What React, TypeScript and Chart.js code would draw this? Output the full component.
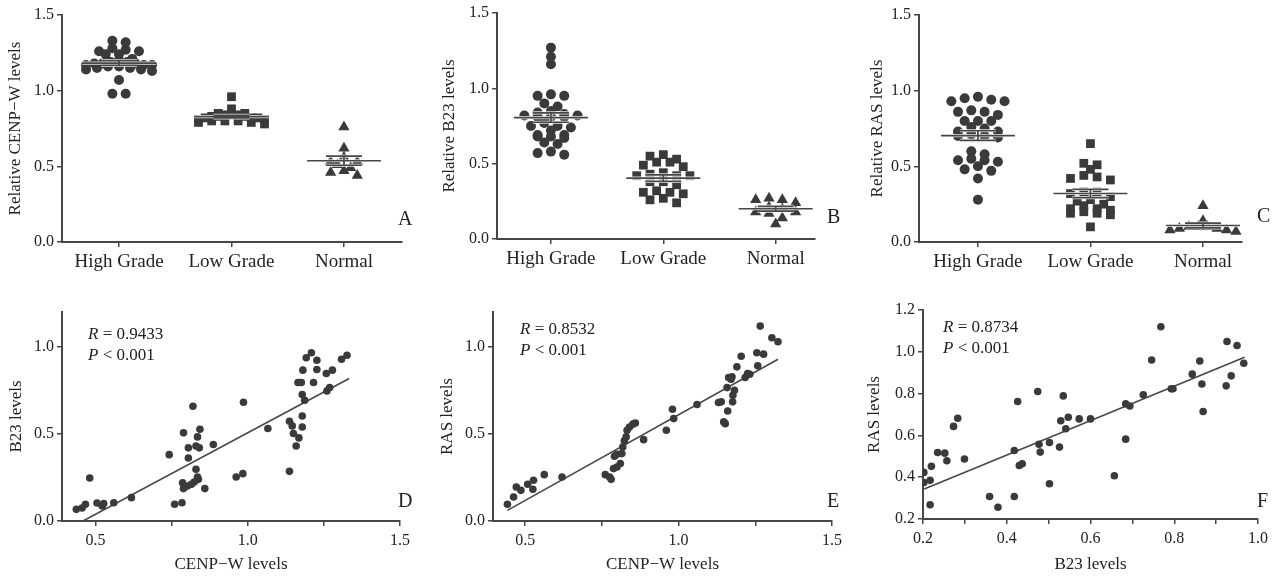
import React, { useEffect, useRef } from "react";
import { Chart, registerables } from "chart.js";
Chart.register(...registerables);

// ---------------- data ----------------
const groupNames = ["High Grade", "Low Grade", "Normal"];

const cenpHigh = [1.27, 1.26, 1.32, 1.33, 1.28, 1.26, 1.24, 1.24, 1.21, 1.2, 1.19, 1.18, 1.18, 1.18, 1.17, 1.17, 1.17, 1.16, 1.16, 1.15, 1.15, 1.14, 1.14, 1.13, 1.19, 1.07, 0.98, 0.98];
const cenpLow = [0.96, 0.88, 0.85, 0.85, 0.84, 0.84, 0.84, 0.83, 0.83, 0.83, 0.82, 0.82, 0.82, 0.81, 0.81, 0.8, 0.8, 0.8, 0.79, 0.79, 0.78];
const cenpNormal = [0.76, 0.62, 0.56, 0.53, 0.53, 0.51, 0.49, 0.47, 0.46, 0.44];

const b23High = [1.27, 1.16, 1.21, 0.95, 0.95, 0.96, 0.9, 0.88, 0.85, 0.84, 0.82, 0.81, 0.82, 0.81, 0.81, 0.83, 0.75, 0.77, 0.75, 0.74, 0.69, 0.68, 0.69, 0.68, 0.72, 0.67, 0.64, 0.63, 0.58, 0.56, 0.57];
const b23Low = [0.55, 0.51, 0.49, 0.56, 0.48, 0.53, 0.51, 0.42, 0.42, 0.44, 0.43, 0.42, 0.38, 0.38, 0.36, 0.31, 0.27, 0.24, 0.26, 0.3, 0.31, 0.32];
const b23Normal = [0.26, 0.27, 0.26, 0.24, 0.17, 0.2, 0.18, 0.18, 0.1, 0.14, 0.21];

const rasHigh = [0.95, 0.93, 0.93, 0.94, 0.96, 0.86, 0.87, 0.86, 0.84, 0.8, 0.8, 0.8, 0.76, 0.73, 0.73, 0.75, 0.71, 0.69, 0.7, 0.7, 0.6, 0.58, 0.54, 0.53, 0.54, 0.55, 0.5, 0.47, 0.48, 0.42, 0.28];
const rasLow = [0.65, 0.52, 0.51, 0.44, 0.42, 0.43, 0.41, 0.48, 0.33, 0.3, 0.33, 0.32, 0.24, 0.22, 0.18, 0.19, 0.19, 0.21, 0.28, 0.27, 0.25, 0.1, 0.2, 0.22];
const rasNormal = [0.24, 0.14, 0.09, 0.08, 0.07, 0.08, 0.09, 0.1, 0.1, 0.1];

const topYTicks = [0, 0.5, 1.0, 1.5];

// D: CENP-W vs B23
const dCenp = [0.437, 0.456, 0.467, 0.481, 0.505, 0.522, 0.527, 0.56, 0.618, 0.76, 0.784, 0.742, 0.789, 0.805, 0.805, 0.82, 0.83, 0.835, 0.843, 0.841, 0.887, 0.786, 0.789, 0.802, 0.815, 0.824, 0.835, 0.83, 0.838, 0.859, 0.962, 0.984, 0.986, 1.066, 1.137, 1.137, 1.146, 1.15, 1.159, 1.168, 1.165, 1.176, 1.179, 1.179, 1.181, 1.179, 1.187, 1.192, 1.209, 1.216, 1.227, 1.227, 1.258, 1.26, 1.269, 1.278, 1.308, 1.326];
const dB23 = [0.067, 0.075, 0.096, 0.247, 0.103, 0.086, 0.1, 0.105, 0.134, 0.096, 0.105, 0.381, 0.506, 0.42, 0.362, 0.659, 0.431, 0.483, 0.527, 0.42, 0.439, 0.22, 0.186, 0.201, 0.211, 0.224, 0.253, 0.297, 0.239, 0.186, 0.253, 0.272, 0.682, 0.531, 0.285, 0.573, 0.546, 0.502, 0.431, 0.477, 0.795, 0.795, 0.726, 0.603, 0.866, 0.54, 0.693, 0.937, 0.966, 0.795, 0.923, 0.87, 0.847, 0.747, 0.766, 0.866, 0.929, 0.952];
const dFitX = [0.459, 1.333];
const dFitY = [0.0, 0.818];

// E: CENP-W vs RAS
const eCenp = [0.442, 0.462, 0.471, 0.486, 0.508, 0.527, 0.525, 0.562, 0.62, 0.761, 0.775, 0.78, 0.788, 0.799, 0.81, 0.791, 0.799, 0.815, 0.818, 0.823, 0.829, 0.832, 0.84, 0.851, 0.859, 0.886, 0.96, 0.98, 0.984, 1.06, 1.13, 1.139, 1.147, 1.152, 1.158, 1.16, 1.163, 1.171, 1.174, 1.176, 1.177, 1.182, 1.19, 1.204, 1.217, 1.225, 1.232, 1.255, 1.258, 1.266, 1.277, 1.304, 1.324];
const eRas = [0.096, 0.138, 0.195, 0.176, 0.211, 0.234, 0.182, 0.266, 0.253, 0.266, 0.253, 0.239, 0.301, 0.31, 0.33, 0.372, 0.383, 0.387, 0.425, 0.46, 0.483, 0.521, 0.54, 0.556, 0.563, 0.467, 0.521, 0.642, 0.588, 0.669, 0.68, 0.684, 0.569, 0.559, 0.766, 0.632, 0.824, 0.814, 0.828, 0.684, 0.722, 0.751, 0.885, 0.946, 0.824, 0.847, 0.843, 0.966, 0.891, 1.119, 0.958, 1.052, 1.029];
const eFitX = [0.442, 1.324];
const eFitY = [0.061, 0.929];

// F: B23 vs RAS
const fB23 = [0.202, 0.202, 0.22, 0.217, 0.217, 0.235, 0.252, 0.257, 0.273, 0.283, 0.299, 0.359, 0.379, 0.418, 0.418, 0.426, 0.43, 0.437, 0.474, 0.477, 0.48, 0.502, 0.502, 0.526, 0.529, 0.535, 0.541, 0.547, 0.573, 0.6, 0.657, 0.684, 0.684, 0.694, 0.726, 0.746, 0.768, 0.793, 0.797, 0.843, 0.861, 0.866, 0.869, 0.924, 0.926, 0.936, 0.95, 0.966];
const fRas = [0.423, 0.375, 0.452, 0.385, 0.268, 0.518, 0.515, 0.479, 0.643, 0.682, 0.487, 0.308, 0.256, 0.308, 0.528, 0.762, 0.456, 0.464, 0.81, 0.558, 0.52, 0.566, 0.369, 0.544, 0.67, 0.789, 0.632, 0.687, 0.679, 0.679, 0.407, 0.582, 0.751, 0.741, 0.794, 0.961, 1.12, 0.823, 0.823, 0.893, 0.956, 0.846, 0.714, 0.837, 1.049, 0.885, 1.03, 0.945];
const fFitX = [0.203, 0.968];
const fFitY = [0.343, 0.974];

const cenpTicks = [0.5, 0.75, 1.0, 1.25, 1.5];
const cenpLabeled = [0.5, 1.0, 1.5];
const corrYTicks = [0, 0.5, 1.0];
const b23Ticks = [0.2, 0.3, 0.4, 0.5, 0.6, 0.7, 0.8, 0.9, 1.0];
const b23Labeled = [0.2, 0.4, 0.6, 0.8, 1.0];
const rasFTicks = [0.2, 0.4, 0.6, 0.8, 1.0, 1.2];

// ---------------- styling ----------------
const FONT = '"Liberation Serif", "Times New Roman", serif';
const INK = "#3a3a3a";
const AXIS = "#474747";
const TEXT = "#222222";

// ---------------- helpers ----------------
function mean(a: number[]) {
  return a.reduce((s, v) => s + v, 0) / a.length;
}
function sem(a: number[]) {
  const m = mean(a);
  const v = a.reduce((s, x) => s + (x - m) * (x - m), 0) / (a.length - 1);
  return Math.sqrt(v / a.length);
}
// Prism-style scatter-dot layout: points are grouped into rows (by pixel height)
// and spread side by side within each row, centred on the category.
function rowOffsets(pys: number[], rowH: number, step: number, maxHalf: number): number[] {
  const order = pys.map((_, i) => i).sort((a, b) => pys[a] - pys[b]);
  const rows: number[][] = [];
  let cur: number[] = [];
  let start = 0;
  for (const i of order) {
    if (cur.length && pys[i] - start > rowH) {
      rows.push(cur);
      cur = [];
    }
    if (!cur.length) start = pys[i];
    cur.push(i);
  }
  if (cur.length) rows.push(cur);
  const out = new Array(pys.length).fill(0);
  rows.forEach((row) => {
    const n = row.length;
    const s = n > 1 ? Math.min(step, (2 * maxHalf) / (n - 1)) : 0;
    const slots = row.map((_, k) => (k - (n - 1) / 2) * s);
    const centreOut = [...slots].sort((a, b) => Math.abs(a) - Math.abs(b) || a - b);
    row.forEach((idx, k) => {
      out[idx] = centreOut[k];
    });
  });
  return out;
}

type Box = { left: number; top: number; width: number; height: number };

function axisCommon() {
  return {
    grid: { display: true, drawOnChartArea: false, drawTicks: true, tickLength: 5, color: AXIS, lineWidth: 1.5 },
    border: { display: true, color: AXIS, width: 2 },
  };
}

function letterPlugin(letter: string, dx: number, dy: number) {
  return {
    id: "letter",
    afterDraw(chart: any) {
      const { ctx, chartArea } = chart;
      ctx.save();
      ctx.font = `20px ${FONT}`;
      ctx.fillStyle = TEXT;
      ctx.textAlign = "left";
      ctx.textBaseline = "middle";
      ctx.fillText(letter, chartArea.right + dx, chartArea.bottom + dy);
      ctx.restore();
    },
  };
}

function statsPlugin(rText: string, dx: number, dy: number) {
  return {
    id: "stats",
    afterDraw(chart: any) {
      const { ctx, chartArea } = chart;
      const x0 = chartArea.left + dx;
      const y0 = chartArea.top + dy;
      ctx.save();
      ctx.fillStyle = TEXT;
      ctx.textBaseline = "middle";
      ctx.textAlign = "left";
      const lines = [
        ["R", ` = ${rText}`],
        ["P", " < 0.001"],
      ];
      lines.forEach(([it, rest], k) => {
        const y = y0 + k * 21;
        ctx.font = `italic 17px ${FONT}`;
        ctx.fillText(it, x0, y);
        const w = ctx.measureText(it).width;
        ctx.font = `17px ${FONT}`;
        ctx.fillText(rest, x0 + w, y);
      });
      ctx.restore();
    },
  };
}

function meanSemPlugin(series: number[][]) {
  return {
    id: "meanSem",
    afterDatasetsDraw(chart: any) {
      const { ctx } = chart;
      const xs = chart.scales.x;
      const ys = chart.scales.y;
      ctx.save();
      series.forEach((vals, g) => {
        const cx = xs.getPixelForValue(g + 1);
        const m = mean(vals);
        const s = sem(vals);
        const ym = ys.getPixelForValue(m);
        const yh = ys.getPixelForValue(m + s);
        const yl = ys.getPixelForValue(m - s);
        const segs = [
          [cx - 37, ym, cx + 37, ym],
          [cx - 18, yh, cx + 18, yh],
          [cx - 18, yl, cx + 18, yl],
          [cx, yh, cx, yl],
        ];
        const stroke = (color: string, w: number) => {
          ctx.strokeStyle = color;
          ctx.lineWidth = w;
          segs.forEach(([a, b, c, d]) => {
            ctx.beginPath();
            ctx.moveTo(a, b);
            ctx.lineTo(c, d);
            ctx.stroke();
          });
        };
        stroke("rgba(255,255,255,0.85)", 3.2);
        stroke(AXIS, 1.7);
      });
      ctx.restore();
    },
  };
}

// ---------------- panel configs ----------------
type GroupCfg = {
  box: Box;
  yAxisW: number;
  xAxisH: number;
  padTop: number;
  padRight: number;
  xMin: number;
  xMax: number;
  yTitle: string;
  yTitlePad: number;
  series: number[][];
  letter: string;
  letterDx: number;
  letterDy: number;
};

const markerStyles = ["circle", "rect", "triangle"];
const markerRadius = [5, 6.2, 6.5];
const rowHeight = 6;
const rowStep = 13.3;
const rowHalf = 33;

const groupPanels: GroupCfg[] = [
  {
    box: { left: 0, top: 0, width: 420, height: 280 },
    yAxisW: 62, xAxisH: 38, padTop: 15, padRight: 18,
    xMin: 0.493, xMax: 3.516,
    yTitle: "Relative CENP−W levels", yTitlePad: 5,
    series: [cenpHigh, cenpLow, cenpNormal],
    letter: "A", letterDx: -4, letterDy: -22,
  },
  {
    box: { left: 420, top: 0, width: 430, height: 280 },
    yAxisW: 77, xAxisH: 41, padTop: 13, padRight: 35,
    xMin: 0.52, xMax: 3.35,
    yTitle: "Relative B23 levels", yTitlePad: 19,
    series: [b23High, b23Low, b23Normal],
    letter: "B", letterDx: 12, letterDy: -21,
  },
  {
    box: { left: 850, top: 0, width: 426, height: 280 },
    yAxisW: 69, xAxisH: 38, padTop: 15, padRight: 34,
    xMin: 0.476, xMax: 3.347,
    yTitle: "Relative RAS levels", yTitlePad: 17,
    series: [rasHigh, rasLow, rasNormal],
    letter: "C", letterDx: 15, letterDy: -25,
  },
];

type CorrCfg = {
  box: Box;
  yAxisW: number;
  xAxisH: number;
  padTop: number;
  padRight: number;
  xMin: number;
  xMax: number;
  xTicks: number[];
  xLabeled: number[];
  yMin: number;
  yMax: number;
  yTicks: number[];
  xTitle: string;
  yTitle: string;
  yTitlePad: number;
  xs: number[];
  ys: number[];
  fitX: number[];
  fitY: number[];
  rText: string;
  statsDx: number;
  statsDy: number;
  letter: string;
  letterDx: number;
  letterDy: number;
};

const corrPanels: CorrCfg[] = [
  {
    box: { left: 0, top: 280, width: 420, height: 296 },
    yAxisW: 62, xAxisH: 55, padTop: 32, padRight: 20,
    xMin: 0.39, xMax: 1.5, xTicks: cenpTicks, xLabeled: cenpLabeled,
    yMin: 0, yMax: 1.2, yTicks: corrYTicks,
    xTitle: "CENP−W levels", yTitle: "B23 levels", yTitlePad: 6,
    xs: dCenp, ys: dB23, fitX: dFitX, fitY: dFitY, rText: "0.9433", statsDx: 26, statsDy: 23,
    letter: "D", letterDx: -2, letterDy: -19,
  },
  {
    box: { left: 420, top: 280, width: 430, height: 296 },
    yAxisW: 73, xAxisH: 55, padTop: 32, padRight: 18,
    xMin: 0.395, xMax: 1.5, xTicks: cenpTicks, xLabeled: cenpLabeled,
    yMin: 0, yMax: 1.2, yTicks: corrYTicks,
    xTitle: "CENP−W levels", yTitle: "RAS levels", yTitlePad: 17,
    xs: eCenp, ys: eRas, fitX: eFitX, fitY: eFitY, rText: "0.8532", statsDx: 27, statsDy: 18,
    letter: "E", letterDx: -5, letterDy: -19,
  },
  {
    box: { left: 850, top: 280, width: 426, height: 296 },
    yAxisW: 73, xAxisH: 57, padTop: 30, padRight: 18,
    xMin: 0.2, xMax: 1.0, xTicks: b23Ticks, xLabeled: b23Labeled,
    yMin: 0.2, yMax: 1.2, yTicks: rasFTicks,
    xTitle: "B23 levels", yTitle: "RAS levels", yTitlePad: 14,
    xs: fB23, ys: fRas, fitX: fFitX, fitY: fFitY, rText: "0.8734", statsDx: 20, statsDy: 18,
    letter: "F", letterDx: -1, letterDy: -17,
  },
];

// ---------------- components ----------------
function GroupPanel({ cfg }: { cfg: GroupCfg }) {
  const ref = useRef<HTMLCanvasElement>(null);
  useEffect(() => {
    const common = axisCommon();
    const chart = new Chart(ref.current as HTMLCanvasElement, {
      type: "scatter",
      data: {
        datasets: cfg.series.map((vals, g) => ({
          data: vals.map((v) => ({ x: g + 1, y: v })),
          pointStyle: markerStyles[g] as any,
          pointRadius: markerRadius[g],
          backgroundColor: INK,
          borderColor: INK,
          borderWidth: 0,
        })),
      },
      options: {
        responsive: false,
        animation: false,
        events: [],
        layout: { padding: { left: 0, top: cfg.padTop, right: cfg.padRight, bottom: 0 } },
        plugins: { legend: { display: false }, tooltip: { enabled: false } },
        scales: {
          x: {
            type: "linear",
            bounds: "data",
            min: cfg.xMin,
            max: cfg.xMax,
            afterBuildTicks: (s: any) => {
              s.ticks = groupNames.map((_, i) => ({ value: i + 1 }));
            },
            afterFit: (s: any) => {
              s.height = cfg.xAxisH;
            },
            ticks: {
              autoSkip: false,
              maxRotation: 0,
              padding: 4,
              color: TEXT,
              font: { family: FONT, size: 19 },
              callback: (v: any) => groupNames[Math.round(Number(v)) - 1] ?? "",
            },
            ...common,
          } as any,
          y: {
            type: "linear",
            bounds: "data",
            min: 0,
            max: 1.5,
            afterBuildTicks: (s: any) => {
              s.ticks = topYTicks.map((v) => ({ value: v }));
            },
            afterFit: (s: any) => {
              s.width = cfg.yAxisW;
            },
            ticks: {
              padding: 3,
              color: TEXT,
              font: { family: FONT, size: 16 },
              callback: (v: any) => Number(v).toFixed(1),
            },
            title: {
              display: true,
              text: cfg.yTitle,
              color: TEXT,
              font: { family: FONT, size: 17 },
              padding: { top: cfg.yTitlePad, bottom: 0 },
            },
            ...common,
          } as any,
        },
      },
      plugins: [meanSemPlugin(cfg.series), letterPlugin(cfg.letter, cfg.letterDx, cfg.letterDy)],
    });
    // spread the points of each group sideways, using the chart's own scales
    const xs: any = chart.scales.x;
    const ys: any = chart.scales.y;
    cfg.series.forEach((vals, g) => {
      const cx = xs.getPixelForValue(g + 1);
      const pys = vals.map((v) => ys.getPixelForValue(v));
      const offs = rowOffsets(pys, rowHeight, rowStep, rowHalf);
      (chart.data.datasets[g] as any).data = vals.map((v, i) => ({ x: xs.getValueForPixel(cx + offs[i]), y: v }));
    });
    chart.update("none");
    return () => chart.destroy();
  }, []);
  return (
    <canvas
      ref={ref}
      width={cfg.box.width}
      height={cfg.box.height}
      style={{ position: "absolute", left: cfg.box.left, top: cfg.box.top, width: cfg.box.width, height: cfg.box.height }}
    />
  );
}

function CorrPanel({ cfg }: { cfg: CorrCfg }) {
  const ref = useRef<HTMLCanvasElement>(null);
  useEffect(() => {
    const common = axisCommon();
    const chart = new Chart(ref.current as HTMLCanvasElement, {
      type: "scatter",
      data: {
        datasets: [
          {
            data: cfg.xs.map((x, i) => ({ x, y: cfg.ys[i] })),
            pointStyle: "circle",
            pointRadius: 3.8,
            backgroundColor: INK,
            borderColor: INK,
            borderWidth: 0,
          },
          {
            type: "line",
            data: cfg.fitX.map((x, i) => ({ x, y: cfg.fitY[i] })),
            borderColor: AXIS,
            borderWidth: 1.6,
            pointRadius: 0,
            fill: false,
          } as any,
        ],
      },
      options: {
        responsive: false,
        animation: false,
        events: [],
        layout: { padding: { left: 0, top: cfg.padTop, right: cfg.padRight, bottom: 0 } },
        plugins: { legend: { display: false }, tooltip: { enabled: false } },
        scales: {
          x: {
            type: "linear",
            bounds: "data",
            min: cfg.xMin,
            max: cfg.xMax,
            afterBuildTicks: (s: any) => {
              s.ticks = cfg.xTicks.map((v) => ({ value: v }));
            },
            afterFit: (s: any) => {
              s.height = cfg.xAxisH;
            },
            ticks: {
              autoSkip: false,
              maxRotation: 0,
              padding: 5,
              color: TEXT,
              font: { family: FONT, size: 16 },
              callback: (v: any) => (cfg.xLabeled.includes(Number(v)) ? Number(v).toFixed(1) : ""),
            },
            title: {
              display: true,
              text: cfg.xTitle,
              color: TEXT,
              font: { family: FONT, size: 17 },
              padding: { top: 0, bottom: 1 },
            },
            ...common,
          } as any,
          y: {
            type: "linear",
            bounds: "data",
            min: cfg.yMin,
            max: cfg.yMax,
            afterBuildTicks: (s: any) => {
              s.ticks = cfg.yTicks.map((v) => ({ value: v }));
            },
            afterFit: (s: any) => {
              s.width = cfg.yAxisW;
            },
            ticks: {
              padding: 3,
              color: TEXT,
              font: { family: FONT, size: 16 },
              callback: (v: any) => Number(v).toFixed(1),
            },
            title: {
              display: true,
              text: cfg.yTitle,
              color: TEXT,
              font: { family: FONT, size: 17 },
              padding: { top: cfg.yTitlePad, bottom: 0 },
            },
            ...common,
          } as any,
        },
      },
      plugins: [statsPlugin(cfg.rText, cfg.statsDx, cfg.statsDy), letterPlugin(cfg.letter, cfg.letterDx, cfg.letterDy)],
    });
    return () => chart.destroy();
  }, []);
  return (
    <canvas
      ref={ref}
      width={cfg.box.width}
      height={cfg.box.height}
      style={{ position: "absolute", left: cfg.box.left, top: cfg.box.top, width: cfg.box.width, height: cfg.box.height }}
    />
  );
}

export default function App() {
  return (
    <div style={{ position: "fixed", left: 0, top: 0, width: 1276, height: 576, background: "#ffffff", overflow: "hidden" }}>
      {groupPanels.map((cfg) => (
        <GroupPanel key={cfg.letter} cfg={cfg} />
      ))}
      {corrPanels.map((cfg) => (
        <CorrPanel key={cfg.letter} cfg={cfg} />
      ))}
    </div>
  );
}
